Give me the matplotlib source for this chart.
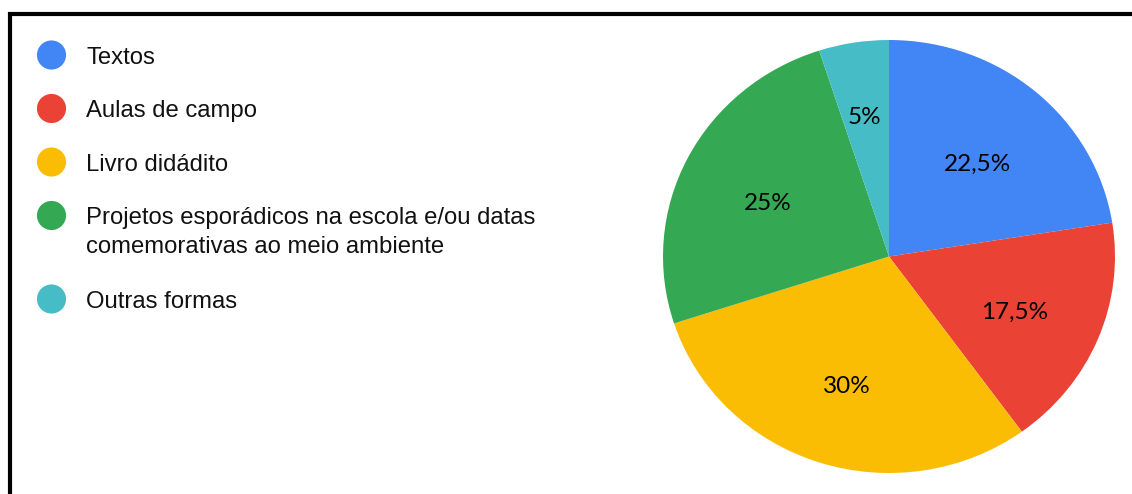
import matplotlib.pyplot as plt
import matplotlib.patches as patches
import numpy as np

# Dados do gráfico
categorias = ["Textos", "Aulas de campo", "Livro didádito",
              "Projetos esporádicos na escola e/ou datas\ncomemorativas ao meio ambiente",
              "Outras formas"]
valores = [22.5, 17.5, 30, 25, 5]
rotulos = ["22,5%", "17,5%", "30%", "25%", "5%"]
cores = ["#4285F4", "#EA4335", "#FBBC04", "#34A853", "#46BDC6"]

W, H = 1132, 494
fig = plt.figure(figsize=(W / 100, H / 100), dpi=100)

# Pizza (levemente esticada na horizontal)
ax = fig.add_axes([663 / W, (H - 473) / H, 452 / W, 433 / H])
wedges, _ = ax.pie(valores, colors=cores, startangle=90, counterclock=False,
                   radius=1, wedgeprops=dict(linewidth=0))
ax.set_aspect('auto')
ax.set_xlim(-1, 1)
ax.set_ylim(-1, 1)
ax.axis('off')

for w, txt, v in zip(wedges, rotulos, valores):
    ang = np.deg2rad((w.theta1 + w.theta2) / 2)
    r = 0.68 if v < 10 else 0.6
    ax.text(r * np.cos(ang), r * np.sin(ang) - 0.02, txt, ha='center',
            va='center_baseline', fontsize=17.5, family='Lato', color='black')

# Legenda desenhada em coordenadas de pixel
leg = fig.add_axes([0, 0, 1, 1])
leg.set_xlim(0, W)
leg.set_ylim(H, 0)
leg.axis('off')
leg.patch.set_alpha(0)

ys = [55, 108.5, 162, 215.5, 299]
for y, cor, nome in zip(ys, cores, categorias):
    leg.scatter([51.5], [y], s=440, color=cor, edgecolors='none')
    for i, linha in enumerate(nome.split("\n")):
        leg.text(86.5, y + 8.5 + i * 29, linha, ha='left', va='baseline',
                 fontsize=17.2, family='Liberation Sans', color='#111111')

# Moldura preta
fig.add_artist(patches.Rectangle((10 / W, -0.2), 1.5, (H - 14) / H + 0.2,
                                 transform=fig.transFigure, fill=False,
                                 lw=3, ec='black', clip_on=False))

fig.savefig("out.png", dpi=100)
